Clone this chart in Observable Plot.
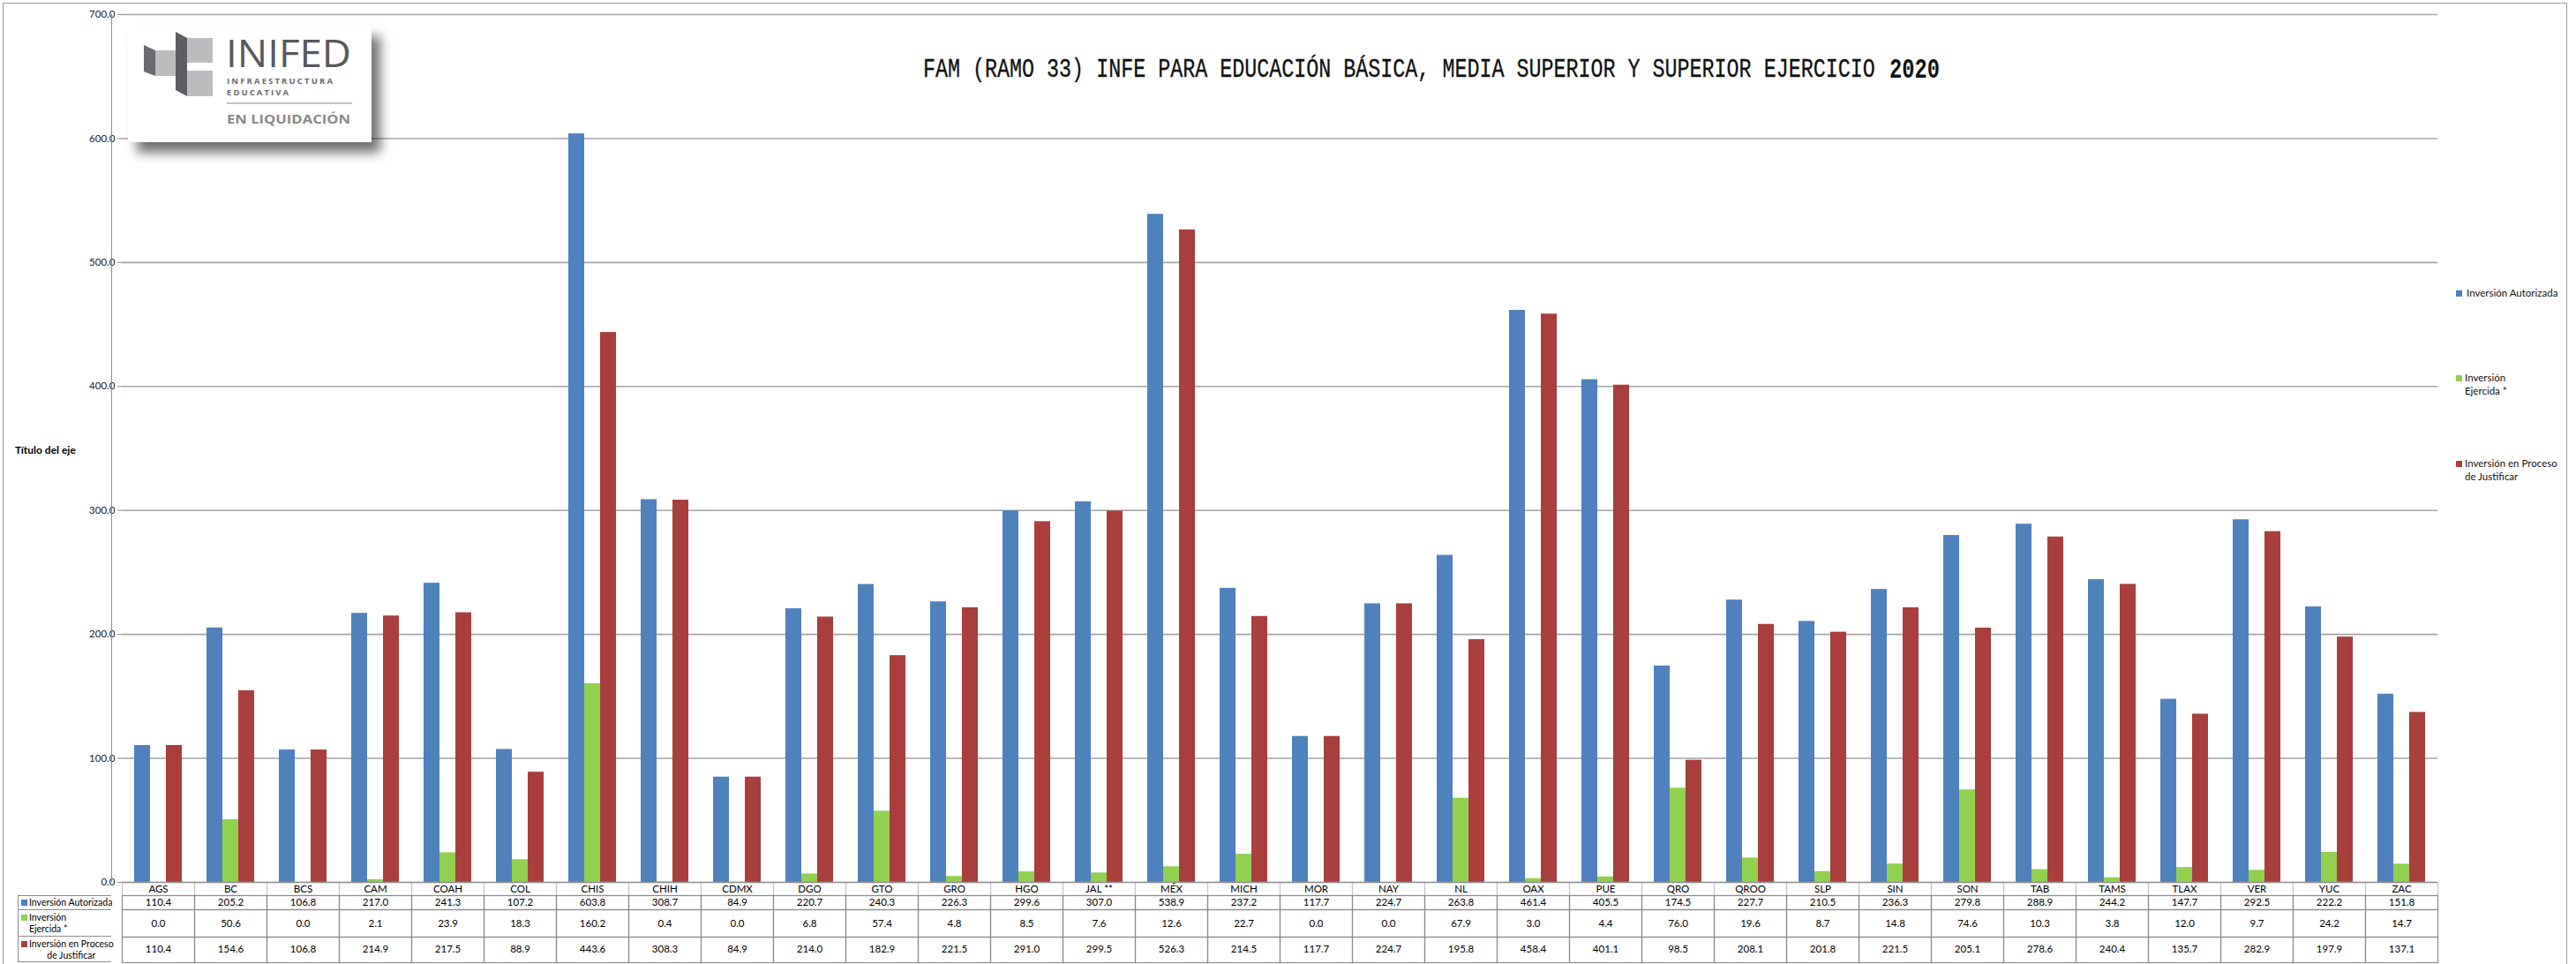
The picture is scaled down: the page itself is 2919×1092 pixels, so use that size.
<!DOCTYPE html>
<html><head><meta charset="utf-8">
<script src="https://cdn.jsdelivr.net/npm/d3@7"></script>
<script src="https://cdn.jsdelivr.net/npm/@observablehq/plot@0.6"></script>
<style>
body{margin:0;background:#fff;}
#wrap{position:relative;width:2919px;height:1092px;overflow:hidden;font-family:Lato,"Open Sans",sans-serif;color:#000;}
#wrap > svg{position:absolute;left:0;top:0;}
.abs{position:absolute;}
.sw{position:absolute;width:7px;height:7px;}
.lg{position:absolute;font-size:11.5px;line-height:15px;white-space:nowrap;color:#111;}
.hc{position:absolute;font-size:10.5px;line-height:13px;white-space:nowrap;}
.ttl{position:absolute;font-family:"Liberation Mono","DejaVu Sans Mono",monospace;white-space:nowrap;color:#111;transform-origin:0 0;}
</style></head><body><div id="wrap"></div>
<script>
const states = ["AGS","BC","BCS","CAM","COAH","COL","CHIS","CHIH","CDMX","DGO","GTO","GRO","HGO","JAL **","MÉX","MICH","MOR","NAY","NL","OAX","PUE","QRO","QROO","SLP","SIN","SON","TAB","TAMS","TLAX","VER","YUC","ZAC"];
const autorizada = [110.4,205.2,106.8,217.0,241.3,107.2,603.8,308.7,84.9,220.7,240.3,226.3,299.6,307.0,538.9,237.2,117.7,224.7,263.8,461.4,405.5,174.5,227.7,210.5,236.3,279.8,288.9,244.2,147.7,292.5,222.2,151.8];
const ejercida = [0.0,50.6,0.0,2.1,23.9,18.3,160.2,0.4,0.0,6.8,57.4,4.8,8.5,7.6,12.6,22.7,0.0,0.0,67.9,3.0,4.4,76.0,19.6,8.7,14.8,74.6,10.3,3.8,12.0,9.7,24.2,14.7];
const proceso = [110.4,154.6,106.8,214.9,217.5,88.9,443.6,308.3,84.9,214.0,182.9,221.5,291.0,299.5,526.3,214.5,117.7,224.7,195.8,458.4,401.1,98.5,208.1,201.8,221.5,205.1,278.6,240.4,135.7,282.9,197.9,137.1];
const seriesNames = ["Inversión Autorizada","Inversión Ejercida *","Inversión en Proceso de Justificar"];
const seriesColors = ["#4f81bd","#92d050","#a83f3d"];
const yTicks = [0,100,200,300,400,500,600,700];
const titleMain = "FAM (RAMO 33) INFE PARA EDUCACIÓN BÁSICA, MEDIA SUPERIOR Y SUPERIOR EJERCICIO";
const titleYear = "2020";
const axisTitle = "Título del eje";

const seriesValues = [autorizada, ejercida, proceso];
const rows = [];
states.forEach((s, i) => seriesNames.forEach((n, k) => rows.push({state: s, series: n, value: seriesValues[k][i]})));
const rowsOf = k => rows.filter(r => r.series === seriesNames[k]);

const lineDark = "#8c8c8c", lineLight = "#c9c9c9";
const tableFont = 11.5;
const plot = Plot.plot({
  width: 2919, height: 1092,
  marginTop: 16, marginBottom: 93, marginLeft: 126, marginRight: 146,
  style: {fontFamily: "Lato, sans-serif", fontSize: "11px", color: "#000", background: "transparent"},
  fx: {domain: states, paddingInner: 0, paddingOuter: 0, axis: null},
  x: {domain: seriesNames, paddingInner: 0, paddingOuter: 0.76, axis: null},
  y: {domain: [0, 700], axis: null},
  color: {domain: seriesNames, range: seriesColors},
  marks: [
    Plot.gridY({ticks: yTicks.slice(1), stroke: "#a3a3a3", strokeOpacity: 1, strokeWidth: 1.6}),
    Plot.barY(rows, {fx: "state", x: "series", y: "value", fill: "series"}),
    Plot.axisY({ticks: yTicks, tickFormat: d => d.toFixed(1), tickSize: 5, tickPadding: 3, stroke: lineDark, fill: "#222", fontSize: 11.5, label: null}),
    // data table grid
    Plot.frame({stroke: lineLight, strokeWidth: 1.2, insetTop: 983, insetBottom: -15}),
    Plot.frame({stroke: lineDark, strokeWidth: 1.2, insetTop: 998, insetBottom: -31}),
    Plot.frame({stroke: lineDark, strokeWidth: 1.2, insetTop: 1014, insetBottom: -62}),
    Plot.frame({stroke: lineDark, strokeWidth: 1.2, insetTop: 1045, insetBottom: -91}),
    Plot.ruleY([0], {stroke: lineDark, strokeWidth: 1.6}),
    // data table texts
    Plot.text(states, {fx: d => d, text: d => d, frameAnchor: "bottom", dy: 7.5, lineAnchor: "middle", fontSize: tableFont}),
    Plot.text(rowsOf(0), {fx: "state", text: d => d.value.toFixed(1), frameAnchor: "bottom", dy: 23, lineAnchor: "middle", fontSize: tableFont}),
    Plot.text(rowsOf(1), {fx: "state", text: d => d.value.toFixed(1), frameAnchor: "bottom", dy: 46.5, lineAnchor: "middle", fontSize: tableFont}),
    Plot.text(rowsOf(2), {fx: "state", text: d => d.value.toFixed(1), frameAnchor: "bottom", dy: 76, lineAnchor: "middle", fontSize: tableFont})
  ]
});

const wrap = document.getElementById("wrap");
wrap.appendChild(plot);

function add(html) { wrap.insertAdjacentHTML("beforeend", html); }

// outer chart border
add(`<div class="abs" style="left:3px;top:3px;width:2906px;height:1100px;border:1.5px solid #9a9a9a;box-sizing:border-box;"></div>`);
// y-axis line
add(`<div class="abs" style="left:125.5px;top:16px;width:1.5px;height:983px;background:${lineDark};"></div>`);
// axis title
add(`<div class="abs" style="left:17px;top:503px;font-size:12px;font-weight:bold;white-space:nowrap;line-height:14px;">${axisTitle}</div>`);

// data table header column
add(`<div class="abs" style="left:20px;top:1014px;width:106px;height:76px;border-left:1.2px solid ${lineDark};border-top:1.2px solid ${lineDark};border-bottom:1.2px solid ${lineDark};box-sizing:border-box;"></div>`);
add(`<div class="abs" style="left:20px;top:1030px;width:106px;height:31px;border-top:1.2px solid ${lineDark};border-bottom:1.2px solid ${lineDark};box-sizing:border-box;"></div>`);
add(`<div class="sw" style="left:24px;top:1019px;background:${seriesColors[0]}"></div><div class="hc" style="left:33px;top:1015.5px;">Inversión Autorizada</div>`);
add(`<div class="sw" style="left:24px;top:1036px;background:${seriesColors[1]}"></div><div class="hc" style="left:33px;top:1033px;">Inversión<br>Ejercida *</div>`);
add(`<div class="sw" style="left:24px;top:1066px;background:${seriesColors[2]}"></div><div class="hc" style="left:33px;top:1063px;text-align:center;">Inversión en Proceso<br>de Justificar</div>`);

// right legend
add(`<div class="sw" style="left:2783px;top:329px;background:${seriesColors[0]}"></div><div class="lg" style="left:2795px;top:324px;">Inversión Autorizada</div>`);
add(`<div class="sw" style="left:2783px;top:425px;background:${seriesColors[1]}"></div><div class="lg" style="left:2793px;top:420px;">Inversión<br>Ejercida *</div>`);
add(`<div class="sw" style="left:2783px;top:522px;background:${seriesColors[2]}"></div><div class="lg" style="left:2793px;top:517px;">Inversión en Proceso<br>de Justificar</div>`);

// title: condensed monospace text, year slightly larger and bold
add(`<div class="ttl" style="left:1046px;top:65px;font-size:29px;line-height:29px;transform:scaleX(0.805);-webkit-text-stroke:0.3px #111;">${titleMain}</div>`);
add(`<div class="ttl" style="left:2141px;top:63.5px;font-size:32px;line-height:32px;font-weight:bold;transform:scaleX(0.74);">${titleYear}</div>`);

// logo
add(`<div class="abs" style="left:145px;top:29px;width:276px;height:132px;background:#fff;box-shadow:10px 12px 12px rgba(0,0,0,0.55);">
<svg width="276" height="132" style="overflow:visible">
<polygon points="18,22 31,28 31,57 18,52" fill="#6b6b6f"/>
<rect x="31" y="28" width="29" height="29" fill="#bcbcbf"/>
<polygon points="54,7 67,14 67,80 54,73" fill="#5e5e62"/>
<rect x="67" y="14" width="29" height="28" fill="#bcbcbf"/>
<rect x="67" y="51" width="29" height="29" fill="#bcbcbf"/>
<text x="111" y="47" font-family="Open Sans, sans-serif" font-weight="400" font-size="43" textLength="142" lengthAdjust="spacingAndGlyphs" fill="#58585c">INIFED</text>
<text x="112" y="66" font-family="Open Sans, sans-serif" font-weight="700" font-size="9.5" textLength="120" lengthAdjust="spacing" fill="#6a6a6e">INFRAESTRUCTURA</text>
<text x="112" y="79" font-family="Open Sans, sans-serif" font-weight="700" font-size="9.5" textLength="70" lengthAdjust="spacing" fill="#6a6a6e">EDUCATIVA</text>
<line x1="112" x2="254" y1="88" y2="88" stroke="#8a8a8a" stroke-width="1"/>
<text x="112" y="111" font-family="Open Sans, sans-serif" font-weight="700" font-size="14" textLength="140" lengthAdjust="spacingAndGlyphs" fill="#8a8a8c">EN LIQUIDACIÓN</text>
</svg></div>`);
</script></body></html>
